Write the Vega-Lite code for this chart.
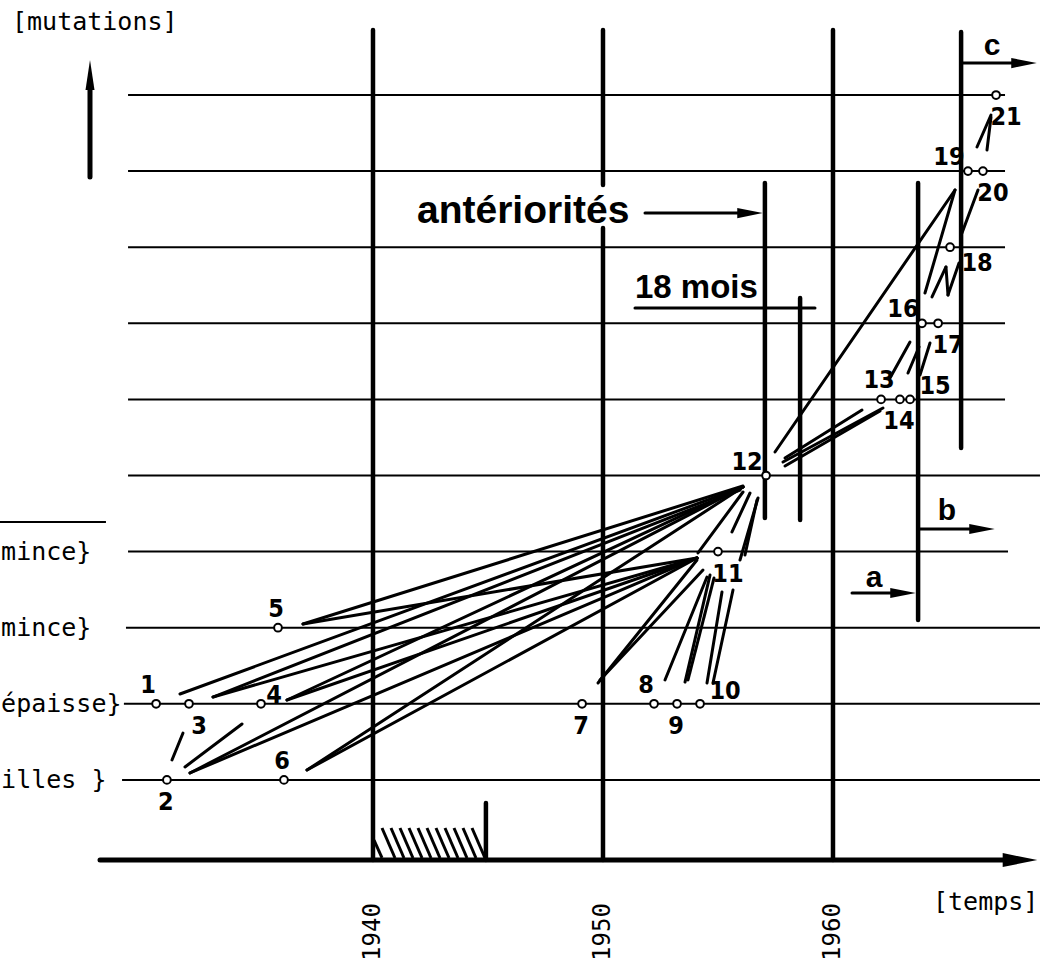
{
  "$schema": "https://vega.github.io/schema/vega-lite/v6.json",
  "width": 1043,
  "height": 964,
  "padding": 0,
  "autosize": {"type": "none"},
  "background": "white",
  "config": {"view": {"stroke": null}},
  "datasets": {
    "hlines": [
      {"x": 1929.09, "x2": 1969.0, "y": 1},
      {"x": 1929.17, "x2": 1969.0, "y": 2},
      {"x": 1929.26, "x2": 1969.0, "y": 3},
      {"x": 1929.35, "x2": 1967.61, "y": 4},
      {"x": 1929.35, "x2": 1969.0, "y": 5},
      {"x": 1929.35, "x2": 1967.48, "y": 6},
      {"x": 1929.35, "x2": 1967.48, "y": 7},
      {"x": 1929.35, "x2": 1967.48, "y": 8},
      {"x": 1929.35, "x2": 1967.48, "y": 9},
      {"x": 1929.35, "x2": 1967.48, "y": 10},
      {"x": 1923.78, "x2": 1928.39, "y": 4.389}
    ],
    "vlines": [
      {"x": 1940, "y": -0.053, "y2": 10.854},
      {"x": 1950, "y": 8.817, "y2": 10.854},
      {"x": 1950, "y": -0.053, "y2": 8.252},
      {"x": 1960, "y": -0.053, "y2": 10.854},
      {"x": 1957.04, "y": 4.441, "y2": 8.844},
      {"x": 1958.57, "y": 4.415, "y2": 7.332},
      {"x": 1963.70, "y": 3.101, "y2": 8.844},
      {"x": 1965.57, "y": 5.361, "y2": 10.828},
      {"x": 1944.91, "y": -0.053, "y2": 0.696}
    ],
    "strokes": [
      {"x": 1931.609, "y": 2.129, "x2": 1956.087, "y2": 4.849},
      {"x": 1933.044, "y": 2.089, "x2": 1955.957, "y2": 4.809},
      {"x": 1936.957, "y": 3.049, "x2": 1956.087, "y2": 4.862},
      {"x": 1936.957, "y": 3.049, "x2": 1954.087, "y2": 3.916},
      {"x": 1936.261, "y": 2.050, "x2": 1956.087, "y2": 4.849},
      {"x": 1936.261, "y": 2.050, "x2": 1954.087, "y2": 3.916},
      {"x": 1932.044, "y": 1.091, "x2": 1956.087, "y2": 4.849},
      {"x": 1932.044, "y": 1.091, "x2": 1954.087, "y2": 3.916},
      {"x": 1931.826, "y": 1.170, "x2": 1934.305, "y2": 1.735},
      {"x": 1937.131, "y": 1.130, "x2": 1956.087, "y2": 4.849},
      {"x": 1937.131, "y": 1.130, "x2": 1954.087, "y2": 3.916},
      {"x": 1933.044, "y": 2.089, "x2": 1954.087, "y2": 3.916},
      {"x": 1949.783, "y": 2.273, "x2": 1954.087, "y2": 3.890},
      {"x": 1949.870, "y": 2.313, "x2": 1954.348, "y2": 3.758},
      {"x": 1952.696, "y": 2.313, "x2": 1954.522, "y2": 3.666},
      {"x": 1953.566, "y": 2.286, "x2": 1954.653, "y2": 3.692},
      {"x": 1953.696, "y": 2.313, "x2": 1954.826, "y2": 3.653},
      {"x": 1954.522, "y": 2.273, "x2": 1955.174, "y2": 3.469},
      {"x": 1954.783, "y": 2.273, "x2": 1955.653, "y2": 3.495},
      {"x": 1954.131, "y": 3.982, "x2": 1956.087, "y2": 4.783},
      {"x": 1955.609, "y": 4.258, "x2": 1956.392, "y2": 4.770},
      {"x": 1955.957, "y": 3.890, "x2": 1956.740, "y2": 4.704},
      {"x": 1956.174, "y": 3.955, "x2": 1956.696, "y2": 4.678},
      {"x": 1957.479, "y": 5.309, "x2": 1965.305, "y2": 8.752},
      {"x": 1957.826, "y": 5.177, "x2": 1962.174, "y2": 5.887},
      {"x": 1957.913, "y": 5.125, "x2": 1962.044, "y2": 5.848},
      {"x": 1957.913, "y": 5.230, "x2": 1961.261, "y2": 5.861},
      {"x": 1962.479, "y": 6.281, "x2": 1963.348, "y2": 6.754},
      {"x": 1963.261, "y": 6.347, "x2": 1963.740, "y2": 6.689},
      {"x": 1963.783, "y": 6.321, "x2": 1964.218, "y2": 6.741},
      {"x": 1964.000, "y": 7.398, "x2": 1965.305, "y2": 8.752},
      {"x": 1964.305, "y": 7.346, "x2": 1964.913, "y2": 7.740},
      {"x": 1964.913, "y": 7.740, "x2": 1965.000, "y2": 7.372},
      {"x": 1965.000, "y": 7.372, "x2": 1965.479, "y2": 7.792},
      {"x": 1965.609, "y": 8.187, "x2": 1966.305, "y2": 8.752},
      {"x": 1966.261, "y": 9.317, "x2": 1966.870, "y2": 9.737},
      {"x": 1966.696, "y": 9.277, "x2": 1966.870, "y2": 9.711},
      {"x": 1931.261, "y": 1.262, "x2": 1931.740, "y2": 1.616}
    ],
    "hatch": [
      {"x": 1940.044, "y": 0.210, "x2": 1940.392, "y2": -0.026},
      {"x": 1940.392, "y": 0.368, "x2": 1940.957, "y2": -0.026},
      {"x": 1940.783, "y": 0.368, "x2": 1941.348, "y2": -0.026},
      {"x": 1941.174, "y": 0.368, "x2": 1941.739, "y2": -0.026},
      {"x": 1941.565, "y": 0.368, "x2": 1942.131, "y2": -0.026},
      {"x": 1941.957, "y": 0.368, "x2": 1942.522, "y2": -0.026},
      {"x": 1942.348, "y": 0.368, "x2": 1942.913, "y2": -0.026},
      {"x": 1942.739, "y": 0.368, "x2": 1943.305, "y2": -0.026},
      {"x": 1943.131, "y": 0.368, "x2": 1943.696, "y2": -0.026},
      {"x": 1943.522, "y": 0.368, "x2": 1944.087, "y2": -0.026},
      {"x": 1943.913, "y": 0.368, "x2": 1944.478, "y2": -0.026},
      {"x": 1944.305, "y": 0.368, "x2": 1944.870, "y2": -0.026}
    ],
    "shafts": [
      {"x": 1951.391, "y": 7.201, "x2": 1959.218, "y2": 7.201},
      {"x": 1951.826, "y": 8.449, "x2": 1956.174, "y2": 8.449},
      {"x": 1965.570, "y": 10.420, "x2": 1967.913, "y2": 10.420},
      {"x": 1963.696, "y": 4.297, "x2": 1966.174, "y2": 4.297},
      {"x": 1960.826, "y": 3.456, "x2": 1962.913, "y2": 3.456}
    ],
    "axes": [
      {"x": 1928.131, "y": -0.053, "x2": 1967.696, "y2": -0.053},
      {"x": 1927.696, "y": 8.922, "x2": 1927.696, "y2": 10.131}
    ],
    "heads": [
      {"x": 1956.391, "y": 8.449},
      {"x": 1968.304, "y": 10.420},
      {"x": 1966.478, "y": 4.297},
      {"x": 1963.044, "y": 3.456}
    ],
    "points": [
      {"x": 1930.57, "y": 2, "label": "1", "pos": "tl"},
      {"x": 1931.04, "y": 1, "label": "2", "pos": "b"},
      {"x": 1932.00, "y": 2, "label": "3", "pos": "br"},
      {"x": 1935.13, "y": 2, "label": "4", "pos": "r"},
      {"x": 1935.87, "y": 3, "label": "5", "pos": "t"},
      {"x": 1936.13, "y": 1, "label": "6", "pos": "t"},
      {"x": 1949.09, "y": 2, "label": "7", "pos": "b"},
      {"x": 1952.22, "y": 2, "label": "8", "pos": "tl"},
      {"x": 1953.22, "y": 2, "label": "9", "pos": "b"},
      {"x": 1954.22, "y": 2, "label": "10", "pos": "ur"},
      {"x": 1955.00, "y": 4, "label": "11", "pos": "br"},
      {"x": 1957.09, "y": 5, "label": "12", "pos": "ul"},
      {"x": 1962.09, "y": 6, "label": "13", "pos": "t"},
      {"x": 1962.91, "y": 6, "label": "14", "pos": "b"},
      {"x": 1963.35, "y": 6, "label": "15", "pos": "ur"},
      {"x": 1963.87, "y": 7, "label": "16", "pos": "ul"},
      {"x": 1964.57, "y": 7, "label": "17", "pos": "br"},
      {"x": 1965.09, "y": 8, "label": "18", "pos": "rb"},
      {"x": 1965.87, "y": 9, "label": "19", "pos": "ul"},
      {"x": 1966.52, "y": 9, "label": "20", "pos": "br"},
      {"x": 1967.09, "y": 10, "label": "21", "pos": "br"}
    ]
  },
  "encoding": {
    "x": {"field": "x", "type": "quantitative", "scale": {"domain": [1923.783, 1969.131], "nice": false, "zero": false}, "axis": null},
    "y": {"field": "y", "type": "quantitative", "scale": {"domain": [-1.4192, 11.2484], "nice": false, "zero": false}, "axis": null}
  },
  "layer": [
    {"data": {"name": "hlines"}, "mark": {"type": "rule", "color": "black", "strokeWidth": 2}, "encoding": {"x2": {"field": "x2"}}},
    {"data": {"name": "vlines"}, "mark": {"type": "rule", "color": "black", "strokeWidth": 4.5, "strokeCap": "round"}, "encoding": {"y2": {"field": "y2"}}},
    {"data": {"name": "hatch"}, "mark": {"type": "rule", "color": "black", "strokeWidth": 3}, "encoding": {"x2": {"field": "x2"}, "y2": {"field": "y2"}}},
    {"data": {"name": "strokes"}, "mark": {"type": "rule", "color": "black", "strokeWidth": 3, "strokeCap": "round"}, "encoding": {"x2": {"field": "x2"}, "y2": {"field": "y2"}}},
    {"data": {"name": "shafts"}, "mark": {"type": "rule", "color": "black", "strokeWidth": 3, "strokeCap": "round"}, "encoding": {"x2": {"field": "x2"}, "y2": {"field": "y2"}}},
    {"data": {"name": "axes"}, "mark": {"type": "rule", "color": "black", "strokeWidth": 5, "strokeCap": "round"}, "encoding": {"x2": {"field": "x2"}, "y2": {"field": "y2"}}},
    {"data": {"name": "heads"}, "mark": {"type": "point", "shape": "M1,0L-1,-0.4L-1,0.4Z", "filled": true, "color": "black", "opacity": 1, "size": 650}},
    {"data": {"values": [{"x": 1968.131, "y": -0.053}]}, "mark": {"type": "point", "shape": "M1,0L-1,-0.4L-1,0.4Z", "filled": true, "color": "black", "opacity": 1, "size": 1200}},
    {"data": {"values": [{"x": 1927.696, "y": 10.263}]}, "mark": {"type": "point", "shape": "M0,-1L0.3,1L-0.3,1Z", "filled": true, "color": "black", "opacity": 1, "size": 900}},
    {"data": {"name": "points"}, "mark": {"type": "point", "shape": "circle", "filled": true, "fill": "white", "stroke": "black", "strokeWidth": 2, "opacity": 1, "size": 60}},
    {"data": {"name": "points"}, "transform": [{"filter": "datum.pos === 't'"}], "mark": {"type": "text", "font": "Liberation Sans Narrow, DejaVu Sans Condensed, Liberation Sans", "fontWeight": "bold", "fontSize": 25, "align": "center", "baseline": "middle", "dx": -2, "dy": -19}, "encoding": {"text": {"field": "label"}}},
    {"data": {"name": "points"}, "transform": [{"filter": "datum.pos === 'tl'"}], "mark": {"type": "text", "font": "Liberation Sans Narrow, DejaVu Sans Condensed, Liberation Sans", "fontWeight": "bold", "fontSize": 25, "align": "center", "baseline": "middle", "dx": -8, "dy": -19}, "encoding": {"text": {"field": "label"}}},
    {"data": {"name": "points"}, "transform": [{"filter": "datum.pos === 'b'"}], "mark": {"type": "text", "font": "Liberation Sans Narrow, DejaVu Sans Condensed, Liberation Sans", "fontWeight": "bold", "fontSize": 25, "align": "center", "baseline": "middle", "dx": -1, "dy": 22}, "encoding": {"text": {"field": "label"}}},
    {"data": {"name": "points"}, "transform": [{"filter": "datum.pos === 'ul'"}], "mark": {"type": "text", "font": "Liberation Sans Narrow, DejaVu Sans Condensed, Liberation Sans", "fontWeight": "bold", "fontSize": 25, "align": "center", "baseline": "middle", "dx": -19, "dy": -14}, "encoding": {"text": {"field": "label"}}},
    {"data": {"name": "points"}, "transform": [{"filter": "datum.pos === 'ur'"}], "mark": {"type": "text", "font": "Liberation Sans Narrow, DejaVu Sans Condensed, Liberation Sans", "fontWeight": "bold", "fontSize": 25, "align": "center", "baseline": "middle", "dx": 25, "dy": -13}, "encoding": {"text": {"field": "label"}}},
    {"data": {"name": "points"}, "transform": [{"filter": "datum.pos === 'r'"}], "mark": {"type": "text", "font": "Liberation Sans Narrow, DejaVu Sans Condensed, Liberation Sans", "fontWeight": "bold", "fontSize": 25, "align": "center", "baseline": "middle", "dx": 13, "dy": -9}, "encoding": {"text": {"field": "label"}}},
    {"data": {"name": "points"}, "transform": [{"filter": "datum.pos === 'br'"}], "mark": {"type": "text", "font": "Liberation Sans Narrow, DejaVu Sans Condensed, Liberation Sans", "fontWeight": "bold", "fontSize": 25, "align": "center", "baseline": "middle", "dx": 10, "dy": 22}, "encoding": {"text": {"field": "label"}}},
    {"data": {"name": "points"}, "transform": [{"filter": "datum.pos === 'rb'"}], "mark": {"type": "text", "font": "Liberation Sans Narrow, DejaVu Sans Condensed, Liberation Sans", "fontWeight": "bold", "fontSize": 25, "align": "center", "baseline": "middle", "dx": 27, "dy": 16}, "encoding": {"text": {"field": "label"}}},
    {"data": {"values": [{"x": 1924.305, "y": 10.959, "t": "[mutations]"}, {"x": 1964.348, "y": -0.604, "t": "[temps]"}]}, "mark": {"type": "text", "font": "DejaVu Sans Mono", "fontSize": 25, "align": "left", "baseline": "middle"}, "encoding": {"text": {"field": "t"}}},
    {"data": {"values": [{"x": 1923.83, "y": 4, "t": "mince}"}, {"x": 1923.83, "y": 3, "t": "mince}"}, {"x": 1923.83, "y": 2, "t": "épaisse}"}, {"x": 1923.83, "y": 1, "t": "illes  }"}]}, "mark": {"type": "text", "font": "DejaVu Sans Mono", "fontSize": 25, "align": "left", "baseline": "middle"}, "encoding": {"text": {"field": "t"}}},
    {"data": {"values": [{"x": 1940, "y": -0.999, "t": "1940"}, {"x": 1950, "y": -0.999, "t": "1950"}, {"x": 1960, "y": -0.999, "t": "1960"}]}, "mark": {"type": "text", "font": "DejaVu Sans Mono", "fontSize": 24, "align": "center", "baseline": "middle", "angle": 270}, "encoding": {"text": {"field": "t"}}},
    {"data": {"values": [{"x": 1941.913, "y": 8.318, "t": "antériorités"}]}, "mark": {"type": "text", "font": "Liberation Sans", "fontWeight": "bold", "fontSize": 39, "align": "left", "baseline": "alphabetic"}, "encoding": {"text": {"field": "t"}}},
    {"data": {"values": [{"x": 1951.391, "y": 7.332, "t": "18 mois"}]}, "mark": {"type": "text", "font": "Liberation Sans", "fontWeight": "bold", "fontSize": 33, "align": "left", "baseline": "alphabetic"}, "encoding": {"text": {"field": "t"}}},
    {"data": {"values": [{"x": 1966.913, "y": 10.526, "t": "c"}, {"x": 1964.957, "y": 4.415, "t": "b"}, {"x": 1961.783, "y": 3.535, "t": "a"}]}, "mark": {"type": "text", "font": "Liberation Sans", "fontWeight": "bold", "fontSize": 30, "align": "center", "baseline": "alphabetic"}, "encoding": {"text": {"field": "t"}}}
  ]
}
